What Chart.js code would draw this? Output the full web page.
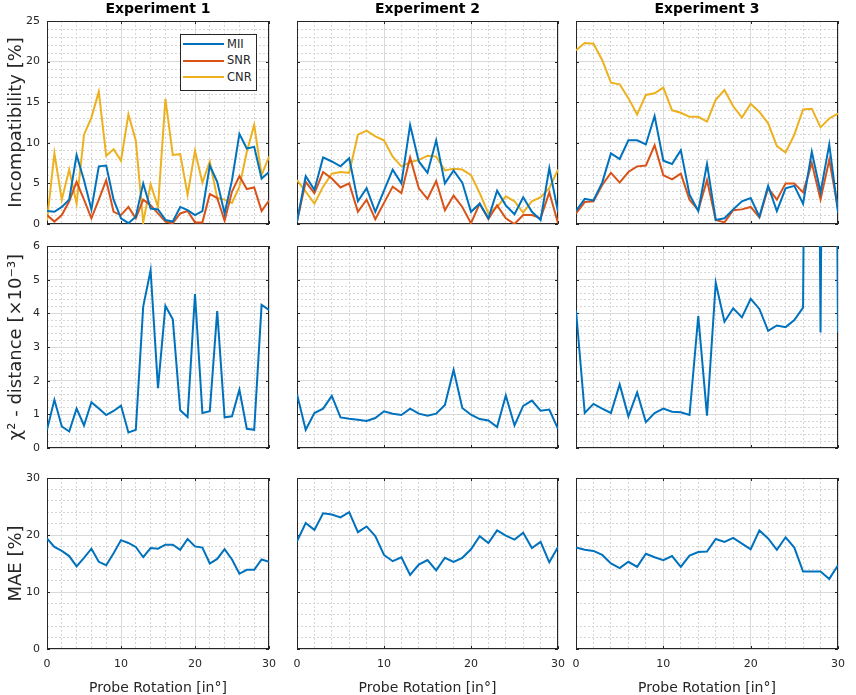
<!DOCTYPE html>
<html>
<head>
<meta charset="utf-8">
<script src="https://cdn.jsdelivr.net/npm/chart.js@4.4.1/dist/chart.umd.min.js"></script>
<style>
  html, body { margin: 0; padding: 0; background: #fff; }
  #fig { position: relative; width: 856px; height: 695px; overflow: hidden; font-family: "DejaVu Sans", sans-serif; }
  #fig canvas { position: absolute; }
  #legend { position: absolute; left: 180px; top: 34px; width: 75px; height: 55px; border: 1px solid #262626; background: #fff; z-index: 5; color: #262626; font-size: 11.5px; }
  #legend .item { position: absolute; left: 2px; height: 16px; line-height: 16px; white-space: nowrap; }
  #legend .swatch { display: inline-block; width: 41px; height: 2px; vertical-align: middle; margin-right: 3px; }
</style>
</head>
<body>
<div id="fig"><div id="legend"></div></div>
<script>
const rotation = [0,1,2,3,4,5,6,7,8,9,10,11,12,13,14,15,16,17,18,19,20,21,22,23,24,25,26,27,28,29,30];
const expTitles = ["Experiment 1", "Experiment 2", "Experiment 3"];
const seriesNames = ["MII", "SNR", "CNR"];
const seriesColors = ["#0072BD", "#D95319", "#EDB120"];

// incompatibility [%]
const mii1 = [1.6,1.5,2.1,3.0,8.5,5.4,1.8,7.1,7.2,3.0,0.7,0.1,0.9,5.0,1.9,1.8,0.5,0.3,2.1,1.7,1.1,1.6,7.2,5.2,1.3,5.4,11.1,9.3,9.5,5.6,6.4];
const snr1 = [1.1,0.3,1.1,2.8,5.2,3.0,0.7,3.0,5.4,1.5,1.1,2.1,0.7,3.0,2.3,1.3,0.3,0.1,1.3,1.6,0.2,0.2,3.7,3.2,0.4,4.0,5.9,4.3,4.5,1.6,2.9];
const cnr1 = [0.4,8.7,3.0,6.7,2.5,11.0,13.1,16.3,8.4,9.2,7.8,13.5,10.3,0.2,4.9,2.1,15.4,8.5,8.6,3.6,9.0,5.1,7.7,3.2,3.0,2.6,4.6,8.9,12.2,6.0,8.3];
const mii2 = [0.3,5.9,4.2,8.2,7.7,7.1,8.1,2.8,4.4,1.5,4.1,6.7,5.0,12.2,7.7,6.3,10.3,5.0,6.6,5.1,1.5,2.5,0.7,4.1,2.3,1.2,3.3,1.5,0.5,6.9,1.5];
const snr2 = [0.3,5.2,3.8,6.4,5.6,4.5,5.0,1.5,3.0,0.6,2.6,4.6,3.8,8.2,4.4,3.1,5.3,1.7,3.5,2.1,0.1,2.5,0.6,2.3,0.7,0.0,1.1,1.1,0.7,3.9,0.1];
const cnr2 = [5.4,4.0,2.5,4.6,6.2,6.4,6.3,11.0,11.5,10.8,10.3,8.3,7.1,7.6,7.9,8.4,8.3,6.6,6.8,6.7,6.0,3.8,1.3,2.1,3.4,2.8,1.4,2.8,3.3,4.4,6.7];
const mii3 = [1.6,3.1,2.9,5.1,8.7,8.0,10.3,10.3,9.8,13.3,7.8,7.4,9.1,3.6,1.6,7.4,0.5,0.7,1.8,2.8,3.2,0.9,4.7,1.6,4.4,4.7,2.5,8.9,3.9,9.8,1.4];
const snr3 = [1.3,2.7,2.8,4.8,6.3,5.1,6.4,7.1,7.2,9.7,6.0,5.5,6.2,3.0,1.7,5.4,0.5,0.2,1.7,1.8,2.1,0.8,4.4,3.0,5.0,5.0,3.9,7.5,3.0,7.9,1.9];
const cnr3 = [21.4,22.3,22.2,20.2,17.4,17.2,15.5,13.5,15.9,16.1,16.8,14.0,13.7,13.2,13.2,12.6,15.3,16.5,14.5,13.1,14.8,13.8,12.4,9.6,8.8,11.0,14.1,14.2,11.9,13.0,13.6];

// chi2 distance [x1e-3]
const chi1 = [0.54,1.43,0.64,0.49,1.17,0.67,1.36,1.17,0.98,1.10,1.26,0.46,0.54,4.20,5.28,1.78,4.22,3.82,1.12,0.92,4.57,1.04,1.09,4.07,0.91,0.94,1.73,0.57,0.54,4.25,4.10];
const chi2 = [1.60,0.54,1.04,1.17,1.55,0.91,0.87,0.84,0.80,0.89,1.09,1.02,0.98,1.17,1.02,0.96,1.02,1.28,2.32,1.19,0.99,0.86,0.82,0.62,1.56,0.67,1.25,1.41,1.11,1.14,0.57];
const chi3 = [4.10,1.04,1.31,1.17,1.04,1.89,0.94,1.65,0.77,1.04,1.17,1.08,1.06,0.98,3.92,0.96,4.91,3.75,4.15,3.88,4.43,4.13,3.48,3.64,3.59,3.80,4.17,40,3.43,40,3.43];

// MAE [%]
const mae1 = [19.4,17.9,17.2,16.3,14.5,16.0,17.6,15.3,14.7,16.8,19.1,18.6,17.9,16.1,17.7,17.6,18.3,18.3,17.4,19.3,18.0,17.8,15.0,15.8,17.5,15.7,13.2,13.9,13.9,15.7,15.3];
const mae2 = [18.9,22.1,20.9,23.8,23.6,23.1,24.0,20.5,21.5,19.8,16.5,15.4,16.1,13.0,14.8,15.6,13.8,16.0,15.3,16.0,17.5,19.8,18.6,20.8,19.9,19.2,20.4,17.7,18.8,15.2,17.9];
const mae3 = [17.8,17.4,17.2,16.5,15.0,14.2,15.3,14.4,16.7,16.1,15.6,16.3,14.4,16.4,17.0,17.1,19.3,18.8,19.5,18.5,17.5,20.8,19.4,17.4,19.6,17.8,13.6,13.6,13.6,12.3,14.7];

// tick labels
const xTicks = [0, 10, 20, 30];
const incTicks = [0, 5, 10, 15, 20, 25];
const chiTicks = [0, 1, 2, 3, 4, 5, 6];
const maeTicks = [0, 10, 20, 30];

const rowDefs = [
  { label: "Incompatibility [%]", ticks: incTicks, minor: 1, series: [[mii1, snr1, cnr1], [mii2, snr2, cnr2], [mii3, snr3, cnr3]] },
  { label: "\u03C7\u00B2 - distance [\u00D710\u207B\u00B3]", ticks: chiTicks, minor: 0.2, series: [[chi1], [chi2], [chi3]] },
  { label: "MAE [%]", ticks: maeTicks, minor: 2, series: [[mae1], [mae2], [mae3]] }
];

// plot-area geometry (px)
const cols = [{ l: 47, r: 269 }, { l: 297, r: 558 }, { l: 576, r: 838 }];
const rows = [{ t: 21, b: 224 }, { t: 246, b: 448 }, { t: 478, b: 649 }];
const M = 9;
const ink = "#262626";
const tickFont = { family: "DejaVu Sans", size: 11 };

// box + inward ticks, like matlab axes
const boxPlugin = {
  id: "box",
  beforeDatasetsDraw(chart) {
    const { ctx, chartArea: a, scales } = chart;
    ctx.save();
    ctx.strokeStyle = ink;
    ctx.lineWidth = 1;
    ctx.beginPath();
    scales.x.ticks.forEach(t => {
      const px = Math.round(scales.x.getPixelForValue(t.value)) + 0.5;
      ctx.moveTo(px, a.bottom); ctx.lineTo(px, a.bottom - 3);
      ctx.moveTo(px, a.top); ctx.lineTo(px, a.top + 3);
    });
    scales.y.ticks.forEach(t => {
      const py = Math.round(scales.y.getPixelForValue(t.value)) + 0.5;
      ctx.moveTo(a.left, py); ctx.lineTo(a.left + 3, py);
      ctx.moveTo(a.right, py); ctx.lineTo(a.right - 3, py);
    });
    ctx.stroke();
    ctx.strokeRect(Math.round(a.left) + 0.5, Math.round(a.top) + 0.5, Math.round(a.width) - 1, Math.round(a.height) - 1);
    ctx.restore();
  }
};

const noPad = s => { s.paddingLeft = 0; s.paddingRight = 0; s.paddingTop = 0; s.paddingBottom = 0; };

const fig = document.getElementById("fig");

rowDefs.forEach((row, i) => {
  const yMax = row.ticks[row.ticks.length - 1];
  row.series.forEach((group, j) => {
    const left = j === 0 ? 0 : cols[j].l - M;
    const right = cols[j].r + M;
    const top = i === 0 ? 0 : rows[i].t - M;
    const bottom = i === 2 ? 695 : rows[i].b + M;

    const canvas = document.createElement("canvas");
    canvas.width = right - left;
    canvas.height = bottom - top;
    canvas.style.left = left + "px";
    canvas.style.top = top + "px";
    fig.appendChild(canvas);

    const datasets = group.map((vals, k) => ({
      label: seriesNames[k],
      data: rotation.map((r, n) => ({ x: r, y: vals[n] })),
      borderColor: seriesColors[k],
      borderWidth: 2,
      pointRadius: 0,
      fill: false,
      tension: 0
    }));

    new Chart(canvas, {
      type: "line",
      data: { datasets },
      options: {
        responsive: false,
        animation: false,
        events: [],
        layout: { padding: { left: j === 0 ? 0 : M, right: M, top: i === 0 ? 0 : M, bottom: i === 2 ? 0 : M } },
        plugins: {
          legend: { display: false },
          tooltip: { enabled: false },
          title: {
            display: i === 0,
            text: expTitles[j],
            fullSize: false,
            color: "#000",
            font: { family: "DejaVu Sans", size: 14, weight: "bold", lineHeight: 1.2 },
            padding: { top: 1.2, bottom: 3 }
          }
        },
        scales: {
          x: {
            type: "linear", min: 0, max: 30,
            afterBuildTicks: s => { s.ticks = xTicks.map(v => ({ value: v })); },
            afterFit: s => { s.height = i === 2 ? 46 : 0; noPad(s); },
            grid: { color: "#dcdcdc", drawTicks: false },
            border: { display: false },
            ticks: { display: i === 2, autoSkip: false, maxRotation: 0, padding: 9, color: ink, font: tickFont },
            title: {
              display: i === 2, text: "Probe Rotation [in\u00B0]", color: ink,
              font: { family: "DejaVu Sans", size: 14, lineHeight: 1 }, padding: 0
            }
          },
          xm: {
            type: "linear", position: "bottom", min: 0, max: 30, z: -1,
            afterFit: s => { s.height = 0; noPad(s); },
            grid: { color: "#d6d6d6", drawTicks: false },
            border: { display: false, dash: [2, 2] },
            ticks: { display: false, stepSize: 2 }
          },
          y: {
            type: "linear", min: 0, max: yMax,
            afterBuildTicks: s => { s.ticks = row.ticks.map(v => ({ value: v })); },
            afterFit: s => { s.width = j === 0 ? 47 : 0; noPad(s); },
            grid: { color: "#dcdcdc", drawTicks: false },
            border: { display: false },
            ticks: { display: j === 0, autoSkip: false, padding: 7, color: ink, font: tickFont },
            title: {
              display: j === 0, text: row.label, color: ink,
              font: { family: "DejaVu Sans", size: 18, lineHeight: 1 }, padding: { top: 7, bottom: 0 }
            }
          },
          ym: {
            type: "linear", position: "left", min: 0, max: yMax, z: -1,
            afterFit: s => { s.width = 0; noPad(s); },
            grid: { color: "#d6d6d6", drawTicks: false },
            border: { display: false, dash: [2, 2] },
            ticks: { display: false, stepSize: row.minor }
          }
        }
      },
      plugins: [boxPlugin]
    });
  });
});

// legend (first panel)
const legend = document.getElementById("legend");
seriesNames.forEach((name, k) => {
  const item = document.createElement("div");
  item.className = "item";
  item.style.top = (0.5 + k * 16.5) + "px";
  item.innerHTML = `<span class="swatch" style="background:${seriesColors[k]}"></span>${name}`;
  legend.appendChild(item);
});
</script>
</body>
</html>
